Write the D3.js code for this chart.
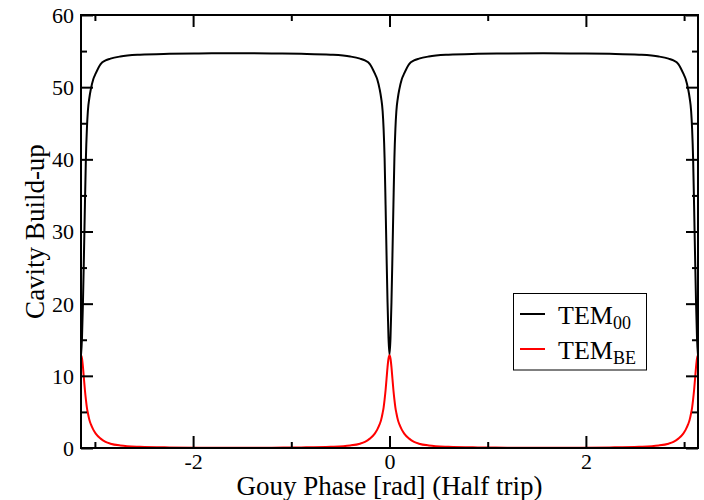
<!DOCTYPE html>
<html>
<head>
<meta charset="utf-8">
<script src="https://cdn.jsdelivr.net/npm/d3@7"></script>
<style>
  html, body { margin: 0; padding: 0; background: #fff; }
  svg { display: block; }
  text { font-family: "Liberation Serif", "Times New Roman", serif; fill: #000; }
</style>
</head>
<body>
<svg id="chart" width="704" height="500"></svg>
<script>
// Gouy phase (rad), sampled densely near the resonances
const phase = [
  -3.1416, -3.1316, -3.1216, -3.1116, -3.1016, -3.0916, -3.0816, -3.0716, -3.0566, -3.0416,
  -3.0166, -2.9916, -2.9416, -2.8916, -2.8416, -2.7416, -2.5416, -2.2416, -1.9416, -1.5708,
  -1.2, -0.9, -0.6, -0.4, -0.3, -0.25, -0.2, -0.15, -0.125, -0.1,
  -0.085, -0.07, -0.06, -0.05, -0.04, -0.03, -0.02, -0.01, 0,
  0.01, 0.02, 0.03, 0.04, 0.05, 0.06, 0.07, 0.085, 0.1, 0.125,
  0.15, 0.2, 0.25, 0.3, 0.4, 0.6, 0.9, 1.2, 1.5708,
  1.9416, 2.2416, 2.5416, 2.7416, 2.8416, 2.8916, 2.9416, 2.9916, 3.0166, 3.0416,
  3.0566, 3.0716, 3.0816, 3.0916, 3.1016, 3.1116, 3.1216, 3.1316, 3.1416
];
// TEM00 build-up
const tem00 = [
  12.9, 15.2, 20.2, 26.7, 33.7, 40.2, 44.2, 46.7, 48.5, 49.7,
  51.1, 51.9, 53.2, 53.7, 53.95, 54.25, 54.5, 54.62, 54.67, 54.7,
  54.67, 54.62, 54.5, 54.25, 53.95, 53.7, 53.2, 51.9, 51.1, 49.7,
  48.5, 46.7, 44.2, 40.2, 33.7, 26.7, 20.2, 15.2, 12.9,
  15.2, 20.2, 26.7, 33.7, 40.2, 44.2, 46.7, 48.5, 49.7, 51.1,
  51.9, 53.2, 53.7, 53.95, 54.25, 54.5, 54.62, 54.67, 54.7,
  54.67, 54.62, 54.5, 54.25, 53.95, 53.7, 53.2, 51.9, 51.1, 49.7,
  48.5, 46.7, 44.2, 40.2, 33.7, 26.7, 20.2, 15.2, 12.9
];
// TEM_BE build-up
const temBE = [
  12.85, 12.4, 11.2, 9.6, 8.0, 6.7, 5.6, 4.85, 3.9, 3.3,
  2.55, 2.0, 1.3, 0.85, 0.6, 0.35, 0.17, 0.08, 0.05, 0.04,
  0.05, 0.08, 0.17, 0.35, 0.6, 0.85, 1.3, 2.0, 2.55, 3.3,
  3.9, 4.85, 5.6, 6.7, 8.0, 9.6, 11.2, 12.4, 12.85,
  12.4, 11.2, 9.6, 8.0, 6.7, 5.6, 4.85, 3.9, 3.3, 2.55,
  2.0, 1.3, 0.85, 0.6, 0.35, 0.17, 0.08, 0.05, 0.04,
  0.05, 0.08, 0.17, 0.35, 0.6, 0.85, 1.3, 2.0, 2.55, 3.3,
  3.9, 4.85, 5.6, 6.7, 8.0, 9.6, 11.2, 12.4, 12.85
];
const xMajorTicks = [-2, 0, 2];
const xMinorTicks = [-3, -1, 1, 3];
const yMajorTicks = [0, 10, 20, 30, 40, 50, 60];
const yMinorTicks = [5, 15, 25, 35, 45, 55];
const seriesNames = ["TEM", "TEM"];
const seriesSubs = ["00", "BE"];
const seriesColors = ["#000000", "#ff0000"];

(function () {
const svg = d3.select("#chart");
const mL = 81, mR = 698, mT = 15, mB = 448;

const x = d3.scaleLinear().domain([-Math.PI, Math.PI]).range([mL, mR]);
const y = d3.scaleLinear().domain([0, 60]).range([mB, mT]);

const font = "Liberation Serif";
const fmt = d => String(d);

function styleAxis(g) {
  g.attr("font-family", null).attr("font-size", null);
  g.select(".domain").remove();
  g.selectAll(".tick line").attr("stroke", "#000").attr("stroke-width", 2);
  g.selectAll("text").style("font-family", font).attr("fill", "#000");
}

svg.append("defs").append("clipPath").attr("id", "clip")
  .append("rect").attr("x", mL).attr("y", mT).attr("width", mR - mL).attr("height", mB - mT);

const pts = phase.map((p, i) => ({ p, a: tem00[i], b: temBE[i] }));

const lineA = d3.line().x(d => x(d.p)).y(d => y(d.a)).curve(d3.curveMonotoneX);
const lineB = d3.line().x(d => x(d.p)).y(d => y(d.b)).curve(d3.curveMonotoneX);

svg.append("path").datum(pts).attr("d", lineA)
  .attr("fill", "none").attr("stroke", seriesColors[0]).attr("stroke-width", 2)
  .attr("clip-path", "url(#clip)");
svg.append("path").datum(pts).attr("d", lineB)
  .attr("fill", "none").attr("stroke", seriesColors[1]).attr("stroke-width", 2)
  .attr("clip-path", "url(#clip)");

const gxb = svg.append("g").attr("transform", `translate(0,${mB})`)
  .call(d3.axisBottom(x).tickValues(xMajorTicks).tickSize(-12).tickFormat(fmt));
styleAxis(gxb);
gxb.selectAll("text").attr("y", 21).attr("dy", 0).style("font-size", "22px");
svg.append("g").attr("transform", `translate(0,${mB})`)
  .call(d3.axisBottom(x).tickValues(xMinorTicks).tickSize(-6).tickFormat(""))
  .call(styleAxis);
svg.append("g").attr("transform", `translate(0,${mT})`)
  .call(d3.axisTop(x).tickValues(xMajorTicks).tickSize(-12).tickFormat(""))
  .call(styleAxis);
svg.append("g").attr("transform", `translate(0,${mT})`)
  .call(d3.axisTop(x).tickValues(xMinorTicks).tickSize(-6).tickFormat(""))
  .call(styleAxis);
const gyl = svg.append("g").attr("transform", `translate(${mL},0)`)
  .call(d3.axisLeft(y).tickValues(yMajorTicks).tickSize(-12).tickPadding(7).tickFormat(fmt));
styleAxis(gyl);
gyl.selectAll("text").style("font-size", "22px").attr("dy", "0.34em");
svg.append("g").attr("transform", `translate(${mL},0)`)
  .call(d3.axisLeft(y).tickValues(yMinorTicks).tickSize(-6).tickFormat(""))
  .call(styleAxis);
svg.append("g").attr("transform", `translate(${mR},0)`)
  .call(d3.axisRight(y).tickValues(yMajorTicks).tickSize(-12).tickFormat(""))
  .call(styleAxis);
svg.append("g").attr("transform", `translate(${mR},0)`)
  .call(d3.axisRight(y).tickValues(yMinorTicks).tickSize(-6).tickFormat(""))
  .call(styleAxis);

svg.append("rect").attr("x", mL).attr("y", mT).attr("width", mR - mL).attr("height", mB - mT)
  .attr("fill", "none").attr("stroke", "#000").attr("stroke-width", 2);

svg.append("text").attr("x", (mL + mR) / 2).attr("y", 495)
  .attr("text-anchor", "middle").style("font-size", "27px").style("font-family", font)
  .text("Gouy Phase [rad] (Half trip)");
svg.append("text").attr("transform", `translate(44,${(mT + mB) / 2}) rotate(-90)`)
  .attr("text-anchor", "middle").style("font-size", "27px").style("font-family", font)
  .text("Cavity Build-up");

const lg = svg.append("g");
lg.append("rect").attr("x", 513.5).attr("y", 293.5).attr("width", 133).attr("height", 76.5)
  .attr("fill", "#fff").attr("stroke", "#000").attr("stroke-width", 1);
const rowsY = [314, 349];
seriesNames.forEach((name, i) => {
  lg.append("line").attr("x1", 520).attr("x2", 545).attr("y1", rowsY[i]).attr("y2", rowsY[i])
    .attr("stroke", seriesColors[i]).attr("stroke-width", 2);
  const t = lg.append("text").attr("x", 558).attr("y", rowsY[i] + 10)
    .style("font-size", "26px").style("font-family", font);
  t.append("tspan").text(name);
  t.append("tspan").attr("dy", 5).style("font-size", "18px").text(seriesSubs[i]);
});
})();
</script>
</body>
</html>
